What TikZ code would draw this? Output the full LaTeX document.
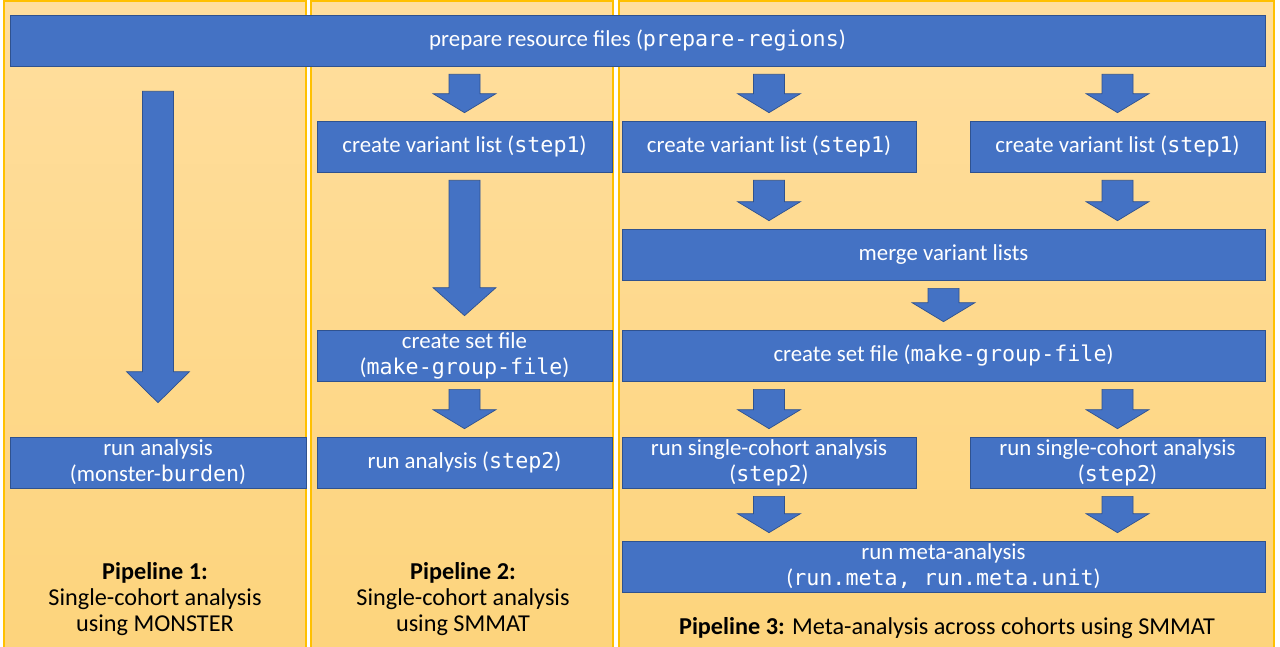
\documentclass[tikz,border=0pt]{standalone}
\usepackage{fontspec}
\setmainfont{Carlito}
\setmonofont[Scale=0.95]{DejaVu Sans Mono}
\usetikzlibrary{calc}

\definecolor{boxblue}{HTML}{4472C4}
\definecolor{boxline}{HTML}{2F528F}
\definecolor{paneltop}{HTML}{FFDE9E}
\definecolor{panelbot}{HTML}{FDD47C}
\definecolor{panelline}{HTML}{FFC000}

\tikzset{
  panel/.style={draw=panelline,semithick,top color=paneltop,bottom color=panelbot},
  stepbox/.style={draw=boxline,fill=boxblue,text=white,minimum height=1.02cm,
    inner sep=0pt,align=center,font=\fontsize{13}{14.8}\selectfont},
  colbox/.style={stepbox,minimum width=5.9cm},
  widebox/.style={stepbox,minimum width=12.86cm},
  label/.style={align=center,font=\fontsize{13.8}{15}\selectfont}
}

% block arrow: [head length in px]{from}{to}
\newcommand{\blockarrow}[3][19]{%
  \path[draw=boxline,fill=boxblue] let \p1=#2, \p2=#3 in
    ({\x1-0.31cm},{\y1-0.16cm}) -- ({\x1+0.31cm},{\y1-0.16cm})
    -- ({\x1+0.31cm},{\y2+0.16cm+#1*0.02cm}) -- ({\x1+0.63cm},{\y2+0.16cm+#1*0.02cm})
    -- ({\x1},{\y2+0.16cm}) -- ({\x1-0.63cm},{\y2+0.16cm+#1*0.02cm})
    -- ({\x1-0.31cm},{\y2+0.16cm+#1*0.02cm}) -- cycle;}

\begin{document}
\begin{tikzpicture}[x=0.02cm,y=-0.02cm]
\useasboundingbox (0,0) rectangle (1280,646);

% panels
\path[panel] (4,1) rectangle (306,652);
\path[panel] (311,1) rectangle (613,652);
\path[panel] (619,1) rectangle (1274,652);

% steps
\node[stepbox,minimum width=25.1cm] (prep) at (637.5,40.5) {prepare resource files (\texttt{prepare-regions})};

\node[stepbox,minimum width=5.92cm] (ana1) at (158,462.5) {run analysis\\(monster-\texttt{burden})};

\node[colbox] (var2) at (464.5,146.5) {create variant list (\texttt{step1})};
\node[colbox] (set2) at (464.5,355.5) {create set file\\(\texttt{make-group-file})};
\node[colbox] (ana2) at (464.5,462.5) {run analysis (\texttt{step2})};

\node[colbox,minimum width=5.88cm] (var3a) at (769,146.5) {create variant list (\texttt{step1})};
\node[colbox] (var3b) at (1117.5,146.5) {create variant list (\texttt{step1})};
\node[widebox] (merge) at (943.5,254.5) {merge variant lists};
\node[widebox] (set3) at (943.5,355.5) {create set file (\texttt{make-group-file})};
\node[colbox,minimum width=5.88cm] (run3a) at (769,462.5) {run single-cohort analysis\\(\texttt{step2})};
\node[colbox] (run3b) at (1117.5,462.5) {run single-cohort analysis\\(\texttt{step2})};
\node[widebox] (meta) at (943.5,566.5) {run meta-analysis\\(\texttt{run.meta, run.meta.unit})};

% pipeline captions
\node[label] (cap1) at (155,599) {\textbf{Pipeline 1:}\\Single-cohort analysis\\using MONSTER};
\node[label] (cap2) at (463,599) {\textbf{Pipeline 2:}\\Single-cohort analysis\\using SMMAT};
\node[label] (cap3) at (947,628) {\textbf{Pipeline 3:} Meta-analysis across cohorts using SMMAT};

% arrows
\blockarrow[31]{($(prep.south -| ana1.north)+(0,17)$)}{($(ana1.north)+(0,-26)$)}
\blockarrow{(prep.south -| var2.north)}{(var2.north)}
\blockarrow[28]{(var2.south)}{($(set2.north)+(0,-6)$)}
\blockarrow{(set2.south)}{(ana2.north)}

\blockarrow{(prep.south -| var3a.north)}{(var3a.north)}
\blockarrow{(prep.south -| var3b.north)}{(var3b.north)}
\blockarrow{(var3a.south)}{(var3a.south |- merge.north)}
\blockarrow{(var3b.south)}{(var3b.south |- merge.north)}
\blockarrow{(merge.south)}{(set3.north)}
\blockarrow{(set3.south -| run3a.north)}{(run3a.north)}
\blockarrow{(set3.south -| run3b.north)}{(run3b.north)}
\blockarrow{(run3a.south)}{(run3a.south |- meta.north)}
\blockarrow{(run3b.south)}{(run3b.south |- meta.north)}
\end{tikzpicture}
\end{document}
